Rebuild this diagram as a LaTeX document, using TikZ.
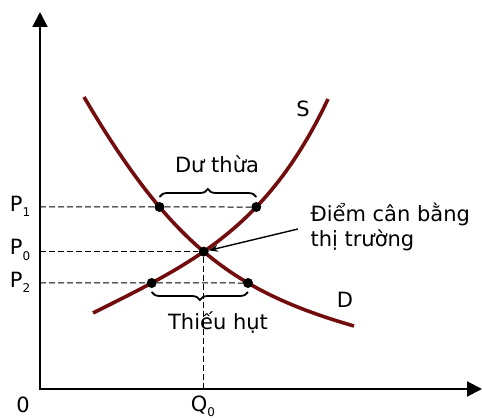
\documentclass[tikz,border=0pt]{standalone}
\usepackage{fontspec}
\setmainfont{DejaVu Sans}
\usepackage{tikz}
\usetikzlibrary{arrows.meta,decorations.pathreplacing,intersections,positioning}
\definecolor{CurveRed}{HTML}{730D0D}
\newcommand{\lowsub}[1]{\raisebox{-0.45ex}{\fontsize{12}{12}\selectfont #1}}

\begin{document}
\begin{tikzpicture}[x=1pt, y=-1pt, >=Stealth, font=\fontsize{21}{25}\selectfont,
    dot/.style={circle, fill=black, inner sep=0pt, minimum size=10pt},
    guide/.style={line width=1pt, dash pattern=on 6pt off 3pt},
    curve/.style={line width=3.6pt, CurveRed},
    brc/.style={decorate, decoration={brace, amplitude=8pt}, line width=1.8pt}]
    \useasboundingbox (0,0) rectangle (482,419);

    % Axes
    \coordinate (ytop) at (40,12);
    \coordinate (O) at (40,389);
    \coordinate (xend) at (482,389);
    \draw[{Triangle[length=15pt,width=15pt]}-{Triangle[length=15pt,width=15pt]}, line width=2pt]
        (ytop) |- (xend);
    \node (zero) at (23,405) {0};

    % Demand and supply
    \draw[curve, name path=demand] (84,97) .. controls (170,243) and (232,291) .. (354,326);
    \draw[curve, name path=supply] (93,313) .. controls (193,263) and (267,228) .. (328,99);
    \node (lS) at (303,109) {S};
    \node (lD) at (345,300) {D};

    % Price levels
    \path[name path=lineP1] (40,207) -- (480,207);
    \path[name path=lineP2] (40,283) -- (480,283);
    \path[name intersections={of=demand and supply, by=eqp}];
    \path[name intersections={of=demand and lineP1, by=d1p}];
    \path[name intersections={of=supply and lineP1, by=s1p}];
    \path[name intersections={of=supply and lineP2, by=s2p}];
    \path[name intersections={of=demand and lineP2, by=d2p}];
    \node[dot] (d1) at (d1p) {};
    \node[dot] (s1) at (s1p) {};
    \node[dot] (eq) at (eqp) {};
    \node[dot] (s2) at (s2p) {};
    \node[dot] (d2) at (d2p) {};

    % Labels on the axes
    \node (lp1) at (20,206) {P\lowsub{1}};
    \node (lp0) at (20,250) {P\lowsub{0}};
    \node (lp2) at (20,282) {P\lowsub{2}};
    \node (lq0) at (203,406) {Q\lowsub{0}};

    % Dashed guides
    \draw[guide] (O |- d1) -- (d1) -- (s1);
    \draw[guide] (O |- eq) -- (eq);
    \draw[guide] (O |- s2) -- (s2) -- (d2);
    \draw[guide] (eq) -- (eq |- O);

    % Surplus and shortage
    \draw[brc] ([yshift=10pt]d1.center) -- ([yshift=10pt]s1.center);
    \node (surplus) at (217,164) {Dư thừa};
    \draw[brc] ([yshift=-9pt]d2.center) -- ([yshift=-9pt]s2.center);
    \node (shortage) at (218,323) {Thiếu hụt};

    % Equilibrium
    \node[align=left, anchor=west] (eqlabel) at (307,227) {Điểm cân bằng\\thị trường};
    \draw[->, line width=1.4pt] (298,229) -- (eq);
\end{tikzpicture}
\end{document}
